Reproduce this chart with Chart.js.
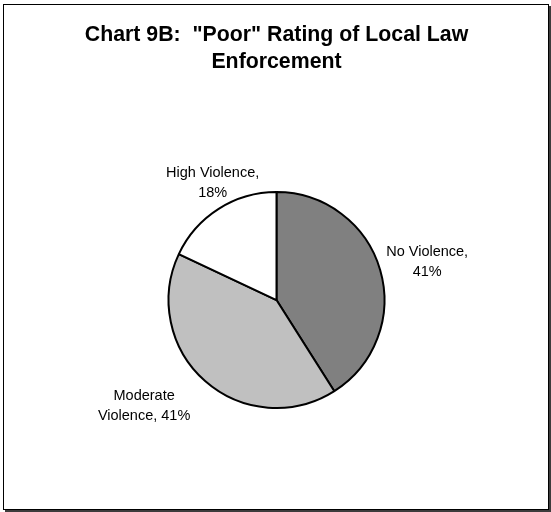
<!DOCTYPE html>
<html>
<head>
<meta charset="utf-8">
<script src="https://cdn.jsdelivr.net/npm/chart.js@4/dist/chart.umd.min.js"></script>
<style>
  html, body { margin: 0; padding: 0; background: #ffffff; }
  #wrap { width: 551px; height: 512px; }
</style>
</head>
<body>
<div id="wrap"><canvas id="chart" width="551" height="512"></canvas></div>
<script>
// Share of "Poor" ratings by level of violence
const categories = ['No Violence', 'Moderate Violence', 'High Violence'];
const shares = [41, 41, 18];
const titleLines = ['Chart 9B:  "Poor" Rating of Local Law', 'Enforcement'];

const sliceColors = ['#808080', '#c0c0c0', '#ffffff'];
const labelFont = '14.5px "Liberation Sans", Arial, sans-serif';
const labelLineHeight = 19.5;
const labelMaxWidth = 100;
// label block centre, measured from the rim point at each slice's mid-angle
const labelNudge = [[47, -8], [-61, 25], [-6, -26]];

function wrapText(ctx, text, maxWidth) {
  const words = text.split(' ');
  const lines = [];
  let line = '';
  for (const w of words) {
    const test = line ? line + ' ' + w : w;
    if (line && ctx.measureText(test).width > maxWidth) {
      lines.push(line);
      line = w;
    } else {
      line = test;
    }
  }
  if (line) lines.push(line);
  return lines;
}

// white page with a framed border
const framePlugin = {
  id: 'frame',
  beforeDraw(chart) {
    const ctx = chart.ctx;
    ctx.save();
    ctx.fillStyle = '#ffffff';
    ctx.fillRect(0, 0, chart.width, chart.height);
    ctx.fillStyle = '#3c3c3c';
    ctx.fillRect(548, 6, 3, 506);
    ctx.fillRect(5, 509, 546, 3);
    ctx.strokeStyle = '#000000';
    ctx.lineWidth = 1;
    ctx.strokeRect(3.5, 4.5, 545, 505);
    ctx.restore();
  }
};

// category and percentage text beside each slice
const sliceLabels = {
  id: 'sliceLabels',
  afterDatasetsDraw(chart) {
    const ctx = chart.ctx;
    const meta = chart.getDatasetMeta(0);
    const values = chart.data.datasets[0].data;
    ctx.save();
    ctx.font = labelFont;
    ctx.fillStyle = '#000000';
    ctx.textAlign = 'center';
    ctx.textBaseline = 'middle';
    meta.data.forEach((arc, i) => {
      const p = arc.getProps(['x', 'y', 'startAngle', 'endAngle', 'outerRadius'], true);
      const mid = (p.startAngle + p.endAngle) / 2;
      const rx = p.x + Math.cos(mid) * p.outerRadius;
      const ry = p.y + Math.sin(mid) * p.outerRadius;
      const cx = rx + labelNudge[i][0];
      const cy = ry + labelNudge[i][1];
      const lines = wrapText(ctx, chart.data.labels[i] + ', ' + values[i] + '%', labelMaxWidth);
      const top = cy - (lines.length - 1) * labelLineHeight / 2;
      lines.forEach((ln, k) => ctx.fillText(ln, cx, top + k * labelLineHeight));
    });
    ctx.restore();
  }
};

new Chart(document.getElementById('chart'), {
  type: 'pie',
  data: {
    labels: categories,
    datasets: [{
      data: shares,
      backgroundColor: sliceColors,
      borderColor: '#000000',
      borderWidth: 2,
      borderAlign: 'center'
    }]
  },
  options: {
    responsive: false,
    animation: false,
    events: [],
    layout: { padding: { top: 0, bottom: 103, left: 2, right: 0 } },
    plugins: {
      legend: { display: false },
      tooltip: { enabled: false },
      title: {
        display: true,
        text: titleLines,
        color: '#000000',
        font: { family: '"Liberation Sans", Arial, sans-serif', size: 21.3, weight: 'bold', lineHeight: 1.27 },
        padding: { top: 22, bottom: 115 }
      }
    }
  },
  plugins: [framePlugin, sliceLabels]
});
</script>
</body>
</html>
